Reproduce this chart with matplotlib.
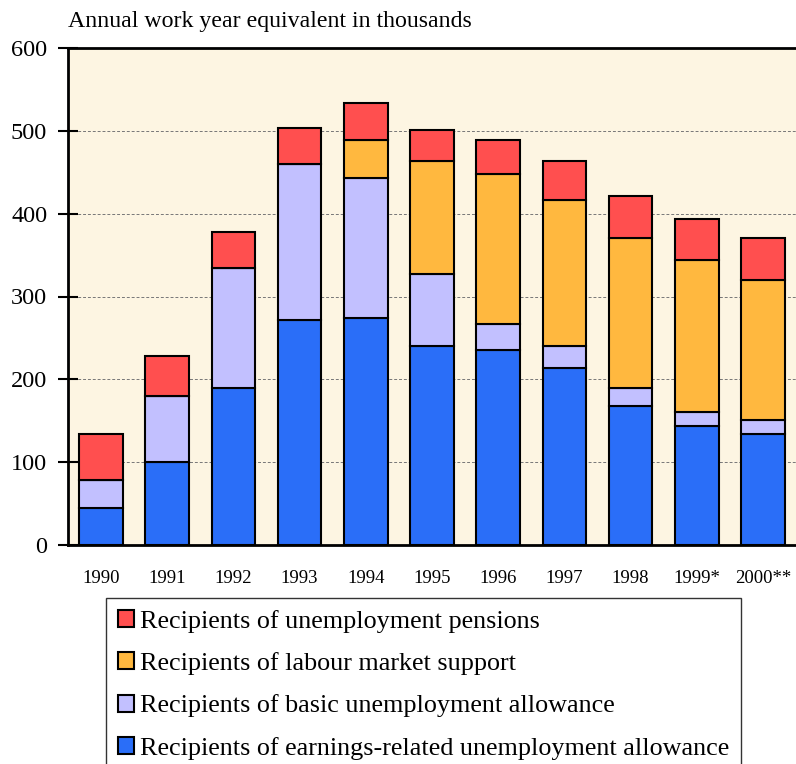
import matplotlib
matplotlib.use("Agg")
import matplotlib.pyplot as plt
import numpy as np

years = ["1990", "1991", "1992", "1993", "1994", "1995", "1996", "1997", "1998", "1999*", "2000**"]
earnings_related = [45, 100, 190, 272, 274, 240, 235, 214, 168, 144, 134]
basic_allowance = [34, 80, 145, 188, 169, 87, 32, 26, 22, 17, 17]
labour_market = [0, 0, 0, 0, 46, 136, 181, 177, 181, 183, 169]
pensions = [55, 48, 43, 44, 44, 38, 41, 46, 50, 49, 51]

labels = ["Recipients of earnings-related unemployment allowance",
          "Recipients of basic unemployment allowance",
          "Recipients of labour market support",
          "Recipients of unemployment pensions"]
colors = ["#2A6EF8", "#C2C0FF", "#FFB83F", "#FF4F4F"]

plt.rcParams['font.family'] = ['Liberation Serif', 'DejaVu Serif']

fig = plt.figure(figsize=(7.96, 7.64), dpi=100)
ax = fig.add_axes([68/796, 1-545/764, 1-68/796, (545-48)/764])
ax.set_facecolor("#FDF5E2")

x = np.arange(len(years))
series = [earnings_related, basic_allowance, labour_market, pensions]
bottom = np.zeros(len(years))
handles = []
for vals, lab, col in zip(series, labels, colors):
    v = np.array(vals, dtype=float)
    h = ax.bar(x, v, 0.66, bottom=bottom, color=col, edgecolor="black", linewidth=1.5, label=lab, zorder=3)
    handles.append(h)
    bottom += v

ax.set_xlim(-0.5, 10.5)
ax.set_ylim(0, 600)
ax.set_yticks(range(0, 601, 100))
ax.yaxis.grid(True, linestyle=(0, (3, 2)), color="#777777", linewidth=0.7, zorder=0)
ax.set_axisbelow(True)
ax.tick_params(axis='y', direction='inout', length=14, width=1.5, labelsize=17.5, pad=8)
ax.tick_params(axis='x', length=0, labelsize=13.5, pad=18)
ax.set_xticks(x)
ax.set_xticklabels(years)
for s in ["left", "bottom", "top"]:
    ax.spines[s].set_linewidth(2)
ax.spines["right"].set_visible(False)

fig.text(68/796, 1-22/764, "Annual work year equivalent in thousands", fontsize=17.2, va="center", ha="left")

leg = fig.legend(handles[::-1], labels[::-1], loc="upper left", bbox_to_anchor=(106/796, 1-598/764),
                 frameon=True, fancybox=False, edgecolor="black", fontsize=18.8,
                 handlelength=0.62, handleheight=0.62, handletextpad=0.25, labelspacing=0.74,
                 borderpad=0.45, borderaxespad=0)
leg.get_frame().set_linewidth(1.0)

fig.savefig("out.png", dpi=100)
